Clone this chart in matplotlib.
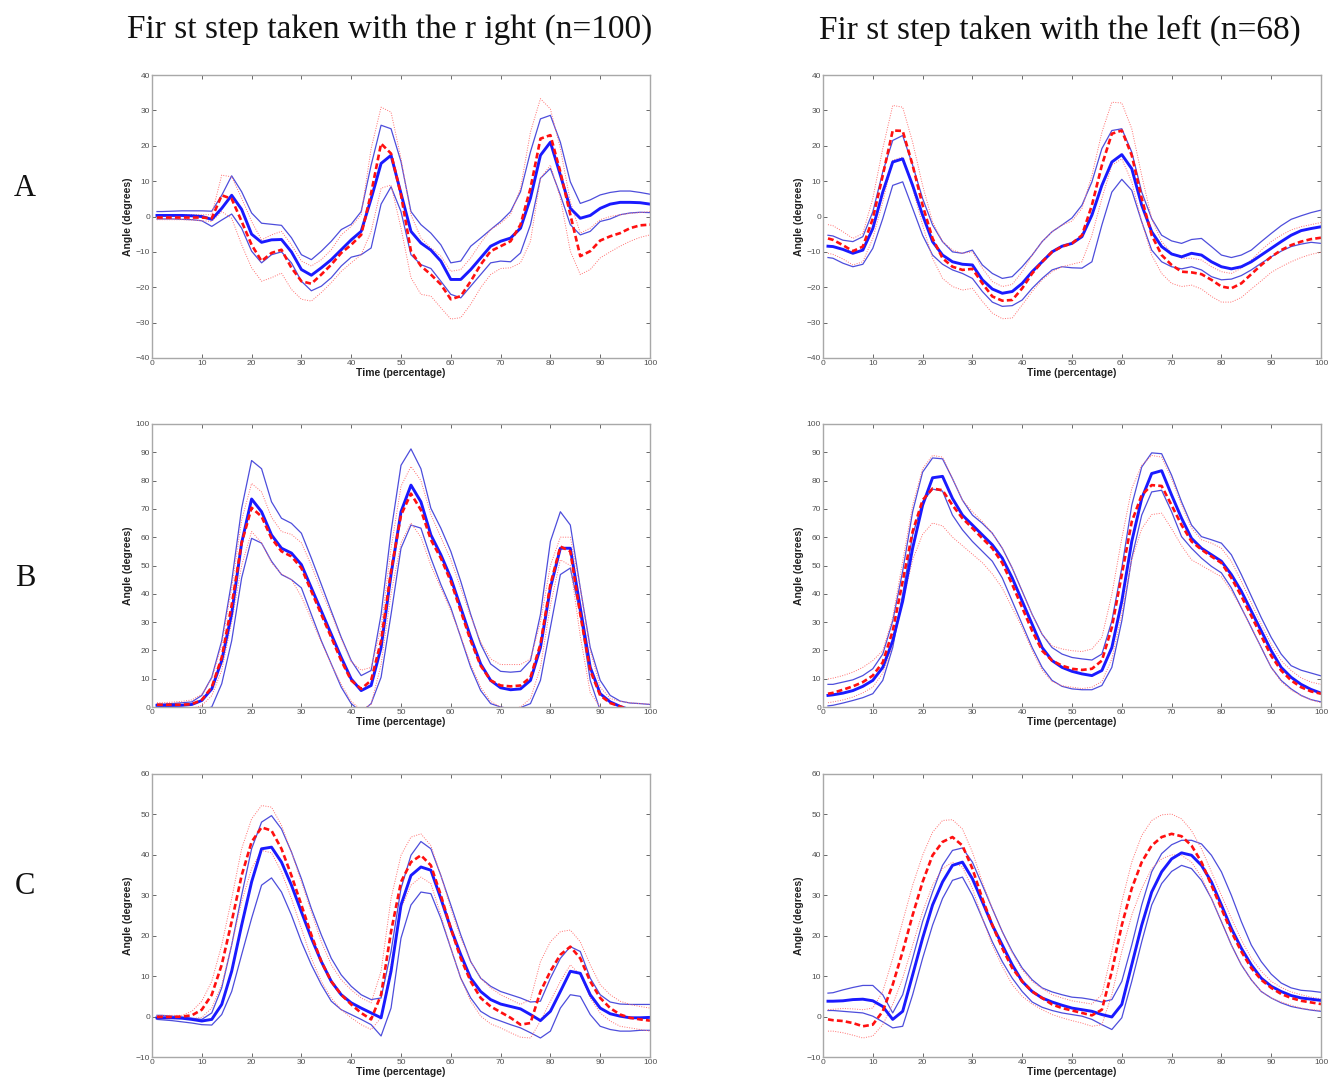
import numpy as np
import matplotlib
matplotlib.use("Agg")
import matplotlib.pyplot as plt

# ---------------- data ----------------
X = [1, 2] + list(range(4, 101, 2))

# Panel A, first step with the right
AL_bm = [0.3,0.3,0.3,0.3,0.2,0,-0.8,2.3,6,2,-5,-7.3,-6.6,-6.5,-10,-15,-16.6,-14.5,-12.2,-9.4,-6.6,-4.2,5,15,17.3,6.5,-4.2,-7.5,-9.5,-12.6,-17.8,-17.8,-15,-11.7,-8.4,-7,-6.1,-3.3,5.2,17.3,21,11.7,2.3,-0.5,0.3,2.3,3.5,4,4,3.9,3.5]
AL_bu = [1.4,1.4,1.5,1.6,1.6,1.6,1.5,6,11.5,7,1,-1.9,-2.2,-2.5,-6,-10.8,-12.2,-9.8,-7,-3.7,-2.2,1.4,14.5,25.8,24.8,15.5,1.4,-2.3,-4.7,-8,-13.1,-12.6,-8.4,-6.1,-3.7,-1.4,1.4,7,18.3,27.6,28.6,21,9.8,3.7,4.7,6.1,6.8,7.2,7.2,6.8,6.3]
AL_bl = [-0.7,-0.7,-0.7,-0.8,-0.9,-1.2,-2.8,-1,0.7,-3.3,-9.8,-13.1,-10.8,-10,-13.1,-18.3,-21,-19.7,-17.3,-14,-11.5,-10.8,-8.9,3.5,8.4,1.4,-10.8,-13.6,-14.7,-18.3,-22,-23,-19.7,-16.4,-13.1,-12.6,-12.8,-10.3,-2.3,10.8,13.6,6.1,-2.3,-5.2,-4.2,-1.4,-0.7,0.5,1,1.2,1.1]
AL_rm = [-0.3,-0.3,-0.3,-0.3,-0.3,-0.3,-0.5,6,5,-1.4,-8,-12.6,-10.3,-9.4,-14.5,-18.3,-19,-16.4,-13.6,-10.3,-8,-5.2,6.6,20.6,17.8,6.1,-9.8,-14,-16.4,-19.2,-23.4,-22.5,-18.3,-13.6,-9.8,-8.4,-7,-2.3,8,22,23,12.6,0.5,-11.2,-9.8,-6.8,-5.6,-4.7,-3.3,-2.5,-2.3]
AL_ru = [0.5,0.5,0.5,0.5,0.5,0.5,0.5,11.7,11.2,5.2,-1.4,-6.6,-5.2,-4.2,-8,-12.6,-14,-12.2,-9.4,-5.2,-2.8,0.5,19.2,30.9,29.5,16.4,0.5,-6.1,-8.9,-11.2,-15.5,-15,-11.7,-7.5,-3.7,-1.9,0.5,8,23.9,33.3,30.4,19.2,4.2,-4.7,-3.3,-0.9,0,0.5,0.9,1.1,1.4]
AL_rl = [-0.9,-0.9,-0.9,-0.9,-1,-1.2,-1.4,1.4,-0.5,-8,-14.5,-18.3,-17.3,-16,-20.6,-23.4,-23.9,-21.5,-18.7,-15.5,-13.1,-10.8,-4.2,8,8.9,-3.3,-17.3,-22,-22.5,-25.8,-29,-28.6,-24.8,-20.1,-16.4,-14.7,-14.5,-13.1,-7,10.8,14.5,5.2,-9.8,-16.4,-15,-11.7,-10,-8.4,-7,-5.9,-5.2]

# Panel A, first step with the left
AR_bm = [-8.4,-8.5,-9.3,-10.4,-9.5,-3.4,6.9,15.4,16.3,8.8,0.4,-7.1,-10.9,-12.8,-13.5,-13.7,-17.9,-20.5,-21.7,-21.2,-18.9,-15.6,-12.8,-10,-8.4,-7.6,-5.7,0.4,8.8,15.4,17.5,13.5,3.2,-4.3,-8.5,-10.6,-11.4,-10.4,-10.9,-12.8,-14.2,-14.8,-14.2,-12.8,-10.9,-9,-7.1,-5.3,-4,-3.4,-2.9]
AR_bu = [-5.3,-5.5,-6.7,-7.1,-5.7,1.3,12.6,21.5,22.9,14.5,5.1,-2.4,-7.1,-10,-10.4,-9.5,-13.7,-16.1,-17.5,-17,-14.2,-10.9,-7.1,-4.3,-2.4,-0.4,3.2,9.8,19.2,24.3,24.8,18.2,6.9,-0.6,-5.3,-6.9,-7.6,-6.5,-6.2,-8.5,-10.9,-11.6,-10.9,-9.5,-7.1,-4.8,-2.6,-0.8,0.2,1.1,1.8]
AR_bl = [-11.6,-11.8,-13.2,-14.2,-13.5,-9,-0.6,8.8,9.8,2.3,-5.3,-10.9,-13.5,-15.1,-16.1,-17.5,-21.2,-24.2,-25.4,-25.2,-23.6,-20.3,-17.5,-15.1,-14.2,-14.5,-14.6,-12.8,-2.4,6.9,10.5,7.4,-1.5,-9.5,-12.8,-14.2,-14.8,-14.2,-15.1,-17,-17.9,-17.7,-16.7,-15.1,-13.2,-11.4,-9.8,-8.5,-7.8,-7.3,-7.6]
AR_rm = [-6.2,-6.6,-8.1,-9.8,-8.5,-0.6,11.6,24.3,24.2,14.5,3.2,-6.2,-11.8,-14.2,-15.1,-14.8,-18.9,-22.6,-23.8,-23.6,-20.3,-16.1,-12.8,-10,-8.5,-7.6,-5.3,3.2,14.5,23.4,24.3,17.3,5.1,-5.3,-10.9,-13.7,-15.6,-15.8,-16.3,-17.9,-19.8,-20.3,-18.9,-16.3,-13.7,-11.4,-9.5,-8.1,-7.1,-6.4,-6]
AR_ru = [-2.3,-2.6,-4.3,-6.2,-4.8,5.1,19.2,31.4,30.9,21,8.8,-1.5,-7.1,-9.5,-10.4,-10,-14.6,-18.4,-19.8,-19.2,-15.6,-10.9,-7.1,-4.3,-2.4,-1.3,2.3,11.6,23.8,32.3,32.1,24.8,11.6,-0.6,-7.1,-10.4,-11.8,-11.8,-12.3,-14.2,-15.6,-16.1,-14.6,-12.3,-9.5,-7.1,-5.3,-3.8,-2.9,-2.3,-1.7]
AR_rl = [-10.4,-10.7,-12,-13.7,-12.8,-6.2,4.1,15.9,16.8,7.9,-2.4,-11.8,-17.5,-19.8,-20.8,-20.3,-24,-27.3,-28.9,-28.7,-25,-21.2,-17.9,-15.6,-14.2,-13.5,-12.8,-5.3,5.1,14.5,16.3,9.8,-1.5,-10.9,-16.1,-18.9,-19.8,-19.4,-20.5,-22.6,-24.2,-24.2,-22.9,-20.5,-18.2,-15.8,-14.2,-12.8,-11.6,-10.7,-10.1]

# Panel B, first step with the right
BL_bm = [0.6,0.6,0.6,0.6,0.9,2.3,6.4,16.4,33,58,73.5,69,60.8,56.1,54.4,50.3,42.1,33.9,25.7,17.5,9.9,5.8,7.6,21,46.8,69,78.4,72.5,60.8,53.8,45.6,35.1,24.6,15.2,9.4,6.8,6.1,6.4,9.4,21,42.1,56.1,56.1,35.1,14,4.7,1.8,0.2,-1,-2,-2]
BL_bu = [1,1,1.2,1.5,1.8,4.1,10.5,23.4,44.4,70.2,87.1,84.2,72.5,66.7,64.9,61.4,52.6,43.3,33.9,24.6,16.4,11.1,12.9,32.7,62,85.4,91.2,84.2,70.2,63.2,55,44.4,32.7,22.2,15.2,12.6,12.3,12.6,16.4,32.7,58.5,69,64.3,42.1,21,9.4,4.1,2.1,1.4,1.2,0.9]
BL_bl = [0.3,0.2,0.1,-0.2,-0.5,-1,0,8.2,23.4,45.6,59.6,57.9,51.5,46.8,45,42.1,32.7,23.4,15.2,7,1.2,-1.8,1.2,10.5,32.7,56.1,64.3,63.2,52.6,43.3,35.1,24.6,14,5.8,1.2,0,-0.6,-0.2,1.2,9.4,28.1,46.8,49.1,32.7,9.4,-1.2,-3,-5,-5,-5,-5]
BL_rm = [0.8,0.8,0.8,0.8,1,2.5,7,17.5,36,58,70.4,67.3,59.6,55,53.2,49.1,40.9,32.7,24.6,16.4,9.4,6.4,9.4,23.4,48,67.8,75.4,69.6,59.1,52.6,44.4,33.9,23.4,14.6,9.4,7.6,7.3,7.6,10.5,22.2,43.3,56.7,55,32.7,12.9,4.1,1.4,0.2,-1,-1.5,-2]
BL_ru = [1.5,1.5,1.7,2,2.5,4.5,10,22,42,66,79,76,67,62,61,58,50,41,33,24,16,13,14,28,56,78,85,80,68,60,52,42,32,23,17,15,15,15,17,30,50,60,60,42,20,7,3,2,1.5,1.2,1]
BL_rl = [0,0,0,-0.5,-0.5,0.5,4,13,30,50,62,58,51,47,45,39,31,23,15,8,2,-1,1,15,40,58,65,60,50,42,34,25,15,7,2,0,-0.5,0,3,14,36,52,50,25,5,0,-2,-3,-4,-4,-4]

# Panel B, first step with the left
BR_bm = [4.1,4.3,4.9,5.8,7.3,9.4,14,23.4,37.4,56.1,71.3,81,81.5,73.7,67.8,64.3,60.8,57.3,52.6,45.6,37.4,29.2,21,16.4,14,12.6,11.7,11.1,12.9,21,37.4,58.5,73.7,82.5,83.5,74.9,66.7,59.6,56.1,53.8,51.5,46.8,40.9,33.9,26.9,19.9,14,10.5,8,6.2,4.9]
BR_bu = [8,8,8.8,9.6,11.1,13.5,18.7,30.4,48,69,83,88,87.7,80.7,73.1,67.8,64.9,61.4,56.1,49.1,40.9,32.7,25.7,21,18.7,17.5,17,16.6,18.7,30.4,49.1,71.3,84.8,89.8,89.5,81.9,72.5,64.3,60.2,59.1,57.9,53.8,46.8,39.2,31.6,24.6,18.7,14.6,13,12,11]
BR_bl = [0.4,0.6,1.4,2.3,3.3,4.7,9.4,21,39.8,60.8,72.5,77,76.3,67.8,62.6,58.5,55,51.5,45.6,37.4,29.2,21,14,9.4,7.3,6.4,6.1,6.1,7.6,14,30.4,52.6,67.8,76,76.6,69,60.2,56.1,52.6,49.7,47.4,42.1,35.1,28.1,21,14,9.4,6.4,4.1,2.6,1.8]
BR_rm = [4.7,5,6.1,7.3,8.8,11.1,15.8,26.9,44.4,62,73.1,77.2,76.6,71.3,66.7,63.2,59.6,56.1,50.9,43.3,35.1,26.9,19.9,16.4,14.6,13.5,13.1,13.5,16.4,28.1,46.8,65.5,74.9,78.4,78.1,71.3,64.3,58.5,55.6,53.2,50.9,45.6,39.2,32.2,25.1,18.1,12.9,9.4,7,5.5,4.7]
BR_ru = [9.9,10.2,11.1,12.3,14,16.4,19.9,31.6,51.5,71.3,84.2,88.9,88.3,80.7,73.1,69,65.5,61.4,56.1,49.1,40.9,32.7,25.7,21.6,20.5,19.9,19.6,20.5,24.6,39.8,59.6,77.2,85.4,88.9,88.3,80.7,71.3,63.2,59.1,57.9,56.1,51.5,44.4,36.8,29.2,22.2,16.4,12.9,10.3,8.8,8]
BR_rl = [1.5,1.8,2.5,3.5,5,7,12,22,37,52,61,65,64,60,57,54,51,47,42,35,28,20,13,9,7.5,7,6.5,7,9,17,33,52,63,68,68.5,63,57,52,50,48,46,41,35,28,21,14,9,6,4,2.5,1.5]

# Panel C, first step with the right
CL_bm = [-0.3,-0.3,-0.3,-0.4,-0.7,-1.1,-0.7,3,11.2,22.6,33.3,41.5,41.9,38.2,32.5,25.9,19.4,13.6,8.7,5.4,3.4,2.1,0.9,-0.3,11.2,27.6,34.9,37,36.2,29.2,21.8,15.3,9.5,6.2,4.2,3.1,2.5,1.9,0.5,-1,1.3,6.2,11.2,10.7,5.4,2.1,0.7,0.1,-0.3,-0.3,-0.2]
CL_bu = [0.3,0.3,0.1,-0.1,-0.4,-0.7,0.9,7.1,17.7,30,41.5,48.1,49.7,46.4,40.7,34.1,26.7,20.2,14.4,10.3,7.5,5.4,4.2,4.6,16.1,31.7,39.9,43.3,41.5,34.9,27.6,20.2,13.6,9.5,7.5,6.2,5.4,4.6,3.6,3.8,9.5,14.4,17.3,16.1,9.5,5.4,3.6,3.1,3,3,3]
CL_bl = [-0.7,-0.8,-1,-1.3,-1.6,-2,-2.1,0.5,6.2,15.3,24.3,32.5,34.3,30.8,25.1,18.5,12.8,7.9,3.8,1.7,0.5,-0.7,-2,-4.8,2.1,19.4,27.6,30.8,30.4,24.3,16.9,9.5,4.6,1.3,-0.2,-1.1,-2,-2.8,-4,-5.3,-3.6,2.1,5.4,5,0.5,-2.4,-3.2,-3.6,-3.6,-3.4,-3.4]
CL_rm = [-0.1,-0.1,-0.1,0,0.3,1.7,5.4,12.8,23.5,34.9,43.2,46.8,46,41.5,34.9,27.6,20.2,13.6,8.7,5.4,3,0.9,-0.7,5.4,21,33.3,38.2,39.9,37.4,30,21.8,14.4,8.7,4.6,2.5,1.1,-0.3,-2,-1.6,6.2,11.2,15.3,17.3,14.4,8.7,4.6,2.1,0.5,-0.3,-0.7,-1]
CL_ru = [0.3,0.3,0.3,0.3,1.3,3.8,8.7,17.7,29.2,41.5,48.9,52.2,51.8,47.3,40.7,33.3,25.9,18.5,12.8,9.1,6.6,4.6,3.4,11.2,29.2,39.9,44.4,45.2,42.3,34.9,26.7,19.4,13.6,9.5,7.1,5.4,4.2,3,4.2,13.6,18.5,21,21.4,18.5,12.8,7.9,5.4,3.8,3,2.5,2.1]
CL_rl = [-0.5,-0.5,-0.5,-0.5,-0.5,-0.2,2.1,7.9,17.7,28.4,36.6,41.1,40.5,35.8,29.2,21.8,14.4,8.7,4.6,1.7,-0.3,-2,-3.2,-0.3,12.8,26.7,32.5,34.5,32.9,25.1,16.9,9.5,3.8,0.1,-1.8,-2.8,-4,-5.1,-5.3,-1.1,3.8,8.7,12.8,10.3,4.6,0.9,-1.1,-2.4,-2.8,-3.2,-3.6]

# Panel C, first step with the left
CR_bm = [3.8,3.8,3.9,4.2,4.3,3.9,2.5,-0.7,1.3,10.3,19.4,27.6,33.3,37.4,38.2,34.1,28.4,22.6,17.7,12.8,8.7,6.2,4.6,3.6,2.8,2.1,1.7,1.3,0.5,-0.1,3,12.8,22.6,30.8,35.8,39,40.5,39.9,37.4,33.3,27.6,21.8,16.9,12.8,9.5,7.5,6.2,5.2,4.6,4.3,4]
CR_bu = [5.8,5.9,6.6,7.2,7.7,7.7,5.4,0.9,5.4,14.4,23.5,30.8,37.4,41.1,41.7,38.2,32.5,26.7,21,16.1,12,9.1,7.1,6.1,5.4,4.8,4.6,4.2,3.6,4.2,8.7,17.7,27.6,35.8,40.3,42.5,43.6,43.6,42.7,39.9,35.8,30,23.5,17.7,13.6,10.5,8.3,7.1,6.5,6.3,6]
CR_bl = [1.5,1.5,1.3,1.1,0.9,0.1,-1.3,-2.8,-2.4,5.4,14.4,22.6,29.2,33.7,34.5,30,24.3,18.5,13.6,9.5,6.2,3.6,2.3,1.5,0.9,0.5,0.1,-0.7,-2,-3.2,-0.3,8.7,18.5,27.6,32.9,35.9,37.4,36.6,33.7,29.2,23.5,17.7,12.8,9.1,6.2,4.6,3.4,2.5,2,1.6,1.3]
CR_rm = [-0.7,-0.9,-1.1,-1.6,-2.4,-2,1.3,7.9,16.1,25.1,33.3,39.9,43.2,44.4,42.3,36.6,29.2,22.6,16.9,12,8.7,6.2,4.6,3,2.1,1.5,0.9,0.3,1.7,11.2,22.6,31.7,38.2,42.3,44.4,45.2,44.6,42.3,38.2,32.5,26.7,21,16.1,12,9.1,7.1,5.6,4.6,3.9,3.5,3.1]
CR_ru = [1.7,1.8,2,1.9,1.7,2.1,6.2,14.4,23.5,32.5,39.9,45.6,48.5,48.7,46.4,40.7,33.3,26.7,21,15.7,11.6,8.7,6.9,5.4,4.6,3.9,3.5,3.1,5.4,16.1,28.4,38.2,44.8,48.5,49.9,50.1,48.9,46,41.5,35.8,30,24.3,19,14.4,11.2,8.7,7.2,6.1,5.4,4.8,4.4]
CR_rl = [-3.6,-3.6,-4,-4.6,-5.3,-4.8,-2,3,9.5,17.7,25.9,32.5,36.6,38.2,37,31.7,24.3,17.7,12.4,7.9,5,3.1,1.7,0.5,-0.3,-1,-1.6,-2.4,-2,5.4,16.1,25.1,31.7,36.6,39,40,39.9,38.2,34.5,29.2,23.5,17.7,12.8,9.1,6.2,4.6,3.6,2.8,2.1,1.7,1.5]

COL_TITLES = ["Fir st step taken with the r ight (n=100)", "Fir st step taken with the left (n=68)"]
ROW_LABELS = ["A", "B", "C"]
YLIMS = [(-40, 40), (0, 100), (-10, 60)]
XLABEL = "Time (percentage)"
YLABEL = "Angle (degrees)"

panels = [
    [(AL_bm, AL_bu, AL_bl, AL_rm, AL_ru, AL_rl), (AR_bm, AR_bu, AR_bl, AR_rm, AR_ru, AR_rl)],
    [(BL_bm, BL_bu, BL_bl, BL_rm, BL_ru, BL_rl), (BR_bm, BR_bu, BR_bl, BR_rm, BR_ru, BR_rl)],
    [(CL_bm, CL_bu, CL_bl, CL_rm, CL_ru, CL_rl), (CR_bm, CR_bu, CR_bl, CR_rm, CR_ru, CR_rl)],
]
for row in panels:
    for p in row:
        for s in p:
            assert len(s) == len(X), len(s)

# ---------------- layout ----------------
W, H = 1341, 1086
fig = plt.figure(figsize=(W / 100, H / 100), dpi=100)
fig.patch.set_facecolor("white")

lefts = [152, 823]
row_tops = [75, 424, 774]
aw, ah = 498, 283

BLUE = "#1a1aff"
BLUE_SD = "#3a3ad8"
RED = "#ff1010"
RED_SD = "#ff7070"
FRAME = "#a8a8a8"
TICKC = "#505050"

for r in range(3):
    for c in range(2):
        bm, bu, bl, rm, ru, rl = panels[r][c]
        ax = fig.add_axes([lefts[c] / W, 1 - (row_tops[r] + ah) / H, aw / W, ah / H])
        ax.plot(X, bu, color=BLUE_SD, lw=0.9, alpha=0.9)
        ax.plot(X, bl, color=BLUE_SD, lw=0.9, alpha=0.9)
        ax.plot(X, ru, color=RED_SD, lw=0.7, ls=(0, (1, 1.5)))
        ax.plot(X, rl, color=RED_SD, lw=0.7, ls=(0, (1, 1.5)))
        ax.plot(X, bm, color=BLUE, lw=2.1)
        ax.plot(X, rm, color=RED, lw=1.9, dashes=(2.2, 1.2))
        ax.set_xlim(0, 100)
        ax.set_ylim(*YLIMS[r])
        ax.set_xticks(range(0, 101, 10))
        ax.set_yticks(range(YLIMS[r][0], YLIMS[r][1] + 1, 10))
        ax.tick_params(direction="in", length=3, width=0.6, top=True, right=True,
                       labelsize=6, colors=TICKC, pad=1.5)
        for sp in ax.spines.values():
            sp.set_color(FRAME)
            sp.set_linewidth(1.0)
        ax.set_xlabel(XLABEL, fontsize=7.5, fontweight="bold", family="Liberation Sans",
                      labelpad=0.5, color="#202020")
        ax.set_ylabel(YLABEL, fontsize=7.5, fontweight="bold", family="Liberation Sans",
                      labelpad=2, color="#202020")
        for lab in ax.get_xticklabels() + ax.get_yticklabels():
            lab.set_family("Liberation Sans")

# column titles
title_cx = [390, 1060]
for c in range(2):
    fig.text(title_cx[c] / W, 1 - 30 / H, COL_TITLES[c], ha="center", va="center",
             fontsize=24, family="Liberation Serif", color="#111111")

# row labels
row_cy = [188, 578, 887]
for r in range(3):
    fig.text(25 / W, 1 - row_cy[r] / H, ROW_LABELS[r], ha="center", va="center",
             fontsize=22, family="Liberation Serif", color="#111111")

fig.savefig("out.png", dpi=100, facecolor="white")
